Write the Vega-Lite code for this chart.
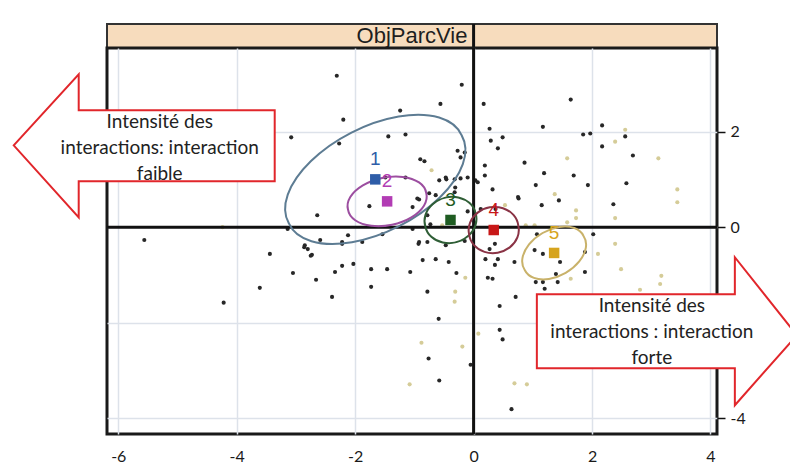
{
  "$schema": "https://vega.github.io/schema/vega-lite/v6.json",
  "background": "white",
  "padding": {"left": 8, "top": 21, "right": 0, "bottom": 0},
  "autosize": {"type": "pad"},
  "spacing": 0,
  "bounds": "flush",
  "datasets": {
    "points": [
      {"x": -2.31, "y": 3.17, "tone": "dark"}, {"x": -1.24, "y": 2.44, "tone": "dark"}, {"x": -2.2, "y": 2.25, "tone": "dark"},
      {"x": -3.08, "y": 1.88, "tone": "dark"}, {"x": -1.44, "y": 1.9, "tone": "dark"}, {"x": -1.15, "y": 1.94, "tone": "dark"},
      {"x": -2.27, "y": 1.75, "tone": "dark"}, {"x": -1.49, "y": 1.04, "tone": "dark"}, {"x": -1.15, "y": 1.04, "tone": "dark"},
      {"x": -1.76, "y": 0.44, "tone": "dark"}, {"x": -2.64, "y": 0.25, "tone": "dark"}, {"x": -3.14, "y": -0.04, "tone": "dark"},
      {"x": -2.12, "y": -0.17, "tone": "dark"}, {"x": -4.24, "y": 0.0, "tone": "light"}, {"x": -0.2, "y": 2.98, "tone": "dark"},
      {"x": -0.56, "y": 2.58, "tone": "dark"}, {"x": 0.17, "y": 2.58, "tone": "dark"}, {"x": 1.64, "y": 2.67, "tone": "dark"},
      {"x": 1.17, "y": 2.1, "tone": "dark"}, {"x": 0.27, "y": 2.06, "tone": "dark"}, {"x": 0.29, "y": 1.81, "tone": "dark"},
      {"x": 0.49, "y": 1.88, "tone": "dark"}, {"x": 0.41, "y": 1.65, "tone": "dark"}, {"x": -0.9, "y": 1.42, "tone": "dark"},
      {"x": -0.83, "y": 1.38, "tone": "dark"}, {"x": -0.71, "y": 1.19, "tone": "light"}, {"x": -0.47, "y": 1.04, "tone": "dark"},
      {"x": -0.27, "y": 1.6, "tone": "dark"}, {"x": -0.15, "y": 1.56, "tone": "dark"}, {"x": -0.22, "y": 1.46, "tone": "dark"},
      {"x": -0.58, "y": 0.98, "tone": "dark"}, {"x": -0.46, "y": 1.0, "tone": "dark"}, {"x": -0.32, "y": 1.0, "tone": "dark"},
      {"x": -0.22, "y": 1.02, "tone": "dark"}, {"x": -0.1, "y": 1.04, "tone": "dark"}, {"x": 0.03, "y": 0.98, "tone": "dark"},
      {"x": 0.19, "y": 1.08, "tone": "dark"}, {"x": 0.32, "y": 0.79, "tone": "dark"}, {"x": 0.86, "y": 1.35, "tone": "dark"},
      {"x": 1.05, "y": 0.88, "tone": "dark"}, {"x": 1.15, "y": 0.46, "tone": "dark"}, {"x": 1.44, "y": 0.56, "tone": "dark"},
      {"x": 0.75, "y": 0.63, "tone": "dark"}, {"x": 0.53, "y": 0.46, "tone": "light"}, {"x": -0.32, "y": 0.73, "tone": "dark"},
      {"x": -0.75, "y": 0.71, "tone": "dark"}, {"x": -0.92, "y": 0.58, "tone": "dark"}, {"x": -1.54, "y": -0.15, "tone": "dark"},
      {"x": -2.85, "y": -0.38, "tone": "dark"}, {"x": -2.73, "y": -0.58, "tone": "dark"}, {"x": -2.22, "y": -0.35, "tone": "dark"},
      {"x": -0.93, "y": -0.35, "tone": "dark"}, {"x": -0.47, "y": -0.38, "tone": "dark"}, {"x": 1.85, "y": 1.94, "tone": "dark"},
      {"x": 1.97, "y": 1.96, "tone": "dark"}, {"x": 2.17, "y": 2.13, "tone": "dark"}, {"x": 2.17, "y": 1.69, "tone": "dark"},
      {"x": 2.56, "y": 2.04, "tone": "light"}, {"x": 2.39, "y": 1.79, "tone": "light"}, {"x": 2.56, "y": 1.9, "tone": "dark"},
      {"x": 2.69, "y": 1.5, "tone": "dark"}, {"x": 3.12, "y": 1.44, "tone": "light"}, {"x": 1.58, "y": 1.44, "tone": "light"},
      {"x": 1.19, "y": 1.13, "tone": "dark"}, {"x": 1.69, "y": 1.08, "tone": "dark"}, {"x": 1.93, "y": 0.88, "tone": "dark"},
      {"x": 2.58, "y": 0.92, "tone": "dark"}, {"x": 3.44, "y": 0.79, "tone": "light"}, {"x": 3.44, "y": 0.52, "tone": "light"},
      {"x": 0.19, "y": 1.29, "tone": "dark"}, {"x": 0.76, "y": 0.6, "tone": "dark"}, {"x": 1.37, "y": 0.69, "tone": "light"},
      {"x": 1.73, "y": 0.35, "tone": "light"}, {"x": 1.73, "y": 0.19, "tone": "light"}, {"x": 2.36, "y": 0.48, "tone": "dark"},
      {"x": 2.39, "y": 0.19, "tone": "light"}, {"x": 1.03, "y": 0.04, "tone": "light"}, {"x": 1.58, "y": 0.1, "tone": "light"},
      {"x": 0.07, "y": 0.94, "tone": "dark"}, {"x": -0.95, "y": 0.6, "tone": "dark"}, {"x": -1.03, "y": 0.42, "tone": "dark"},
      {"x": -0.73, "y": 0.06, "tone": "dark"}, {"x": -0.1, "y": 0.33, "tone": "dark"}, {"x": 0.37, "y": 0.38, "tone": "dark"},
      {"x": 1.07, "y": -0.15, "tone": "dark"}, {"x": 2.02, "y": -0.15, "tone": "dark"}, {"x": -0.64, "y": 0.67, "tone": "dark"},
      {"x": -0.31, "y": 0.83, "tone": "dark"}, {"x": -0.78, "y": 0.25, "tone": "dark"}, {"x": -0.53, "y": 0.04, "tone": "light"},
      {"x": -1.03, "y": -0.04, "tone": "dark"}, {"x": -0.92, "y": -0.31, "tone": "dark"}, {"x": -0.78, "y": -0.31, "tone": "dark"},
      {"x": -0.15, "y": -0.29, "tone": "dark"}, {"x": 0.12, "y": 0.38, "tone": "dark"}, {"x": 0.88, "y": 0.04, "tone": "light"},
      {"x": 0.41, "y": -0.67, "tone": "dark"}, {"x": 1.03, "y": -0.48, "tone": "dark"}, {"x": 1.88, "y": -0.52, "tone": "dark"},
      {"x": 1.46, "y": -0.73, "tone": "dark"}, {"x": -1.07, "y": -0.94, "tone": "dark"}, {"x": -0.86, "y": -0.69, "tone": "dark"},
      {"x": -0.64, "y": -0.67, "tone": "dark"}, {"x": -0.42, "y": -0.73, "tone": "dark"}, {"x": 0.2, "y": -0.67, "tone": "dark"},
      {"x": 0.69, "y": -0.73, "tone": "dark"}, {"x": 0.27, "y": -0.46, "tone": "dark"}, {"x": 1.05, "y": -1.15, "tone": "dark"},
      {"x": 1.17, "y": -1.15, "tone": "dark"}, {"x": 1.42, "y": -1.15, "tone": "dark"}, {"x": 1.88, "y": -0.94, "tone": "dark"},
      {"x": -0.78, "y": -1.35, "tone": "dark"}, {"x": -0.31, "y": -1.35, "tone": "light"}, {"x": 0.32, "y": -1.08, "tone": "dark"},
      {"x": 0.71, "y": -1.46, "tone": "dark"}, {"x": -0.29, "y": -0.96, "tone": "dark"}, {"x": -0.14, "y": -1.06, "tone": "light"},
      {"x": -0.32, "y": -1.56, "tone": "light"}, {"x": -0.59, "y": -1.92, "tone": "dark"}, {"x": -0.88, "y": -2.42, "tone": "light"},
      {"x": -0.76, "y": -2.75, "tone": "dark"}, {"x": -0.19, "y": -2.5, "tone": "light"}, {"x": -1.08, "y": -3.29, "tone": "light"},
      {"x": -0.58, "y": -3.21, "tone": "dark"}, {"x": -0.05, "y": -2.88, "tone": "dark"}, {"x": 0.24, "y": -1.06, "tone": "dark"},
      {"x": 0.44, "y": -1.65, "tone": "dark"}, {"x": 0.44, "y": -2.15, "tone": "dark"}, {"x": 0.49, "y": -2.35, "tone": "dark"},
      {"x": 0.08, "y": -2.23, "tone": "light"}, {"x": 0.69, "y": -3.27, "tone": "light"}, {"x": 0.9, "y": -3.29, "tone": "light"},
      {"x": 0.64, "y": -3.81, "tone": "dark"}, {"x": 1.17, "y": -0.56, "tone": "dark"}, {"x": 1.39, "y": -0.98, "tone": "dark"},
      {"x": 1.2, "y": -1.29, "tone": "dark"}, {"x": 1.64, "y": -1.08, "tone": "light"}, {"x": 2.1, "y": -0.56, "tone": "light"},
      {"x": 2.39, "y": -0.35, "tone": "light"}, {"x": 2.49, "y": -0.88, "tone": "light"}, {"x": 2.81, "y": -1.31, "tone": "light"},
      {"x": 3.17, "y": -1.02, "tone": "light"}, {"x": 3.15, "y": -1.19, "tone": "light"}, {"x": 0.36, "y": -0.79, "tone": "dark"},
      {"x": 0.36, "y": -0.35, "tone": "dark"}, {"x": -5.56, "y": -0.27, "tone": "dark"}, {"x": -3.44, "y": -0.56, "tone": "dark"},
      {"x": -2.86, "y": -0.42, "tone": "dark"}, {"x": -2.8, "y": -0.46, "tone": "dark"}, {"x": -2.75, "y": -0.6, "tone": "dark"},
      {"x": -3.05, "y": -0.96, "tone": "dark"}, {"x": -2.66, "y": -1.1, "tone": "dark"}, {"x": -2.34, "y": -0.94, "tone": "dark"},
      {"x": -2.22, "y": -0.81, "tone": "dark"}, {"x": -2.03, "y": -0.77, "tone": "dark"}, {"x": -1.73, "y": -0.88, "tone": "dark"},
      {"x": -1.46, "y": -0.88, "tone": "dark"}, {"x": -1.73, "y": -1.25, "tone": "dark"}, {"x": -2.39, "y": -1.46, "tone": "dark"},
      {"x": -3.61, "y": -1.27, "tone": "dark"}, {"x": -4.22, "y": -1.58, "tone": "dark"}, {"x": -2.59, "y": -0.27, "tone": "dark"},
      {"x": -2.22, "y": -0.31, "tone": "dark"}, {"x": -1.88, "y": -0.31, "tone": "dark"}
    ],
    "centroids": [
      {"cat": "1", "x": -1.66, "y": 1.0},
      {"cat": "2", "x": -1.46, "y": 0.54},
      {"cat": "3", "x": -0.39, "y": 0.15},
      {"cat": "4", "x": 0.34, "y": -0.06},
      {"cat": "5", "x": 1.36, "y": -0.54}
    ],
    "notes": [
      {"side": "gauche", "x": -5.3, "y": 1.65, "text": "Intensité des\ninteractions: interaction\nfaible"},
      {"side": "droite", "x": 3.01, "y": -2.2, "text": "Intensité des\ninteractions : interaction\nforte"}
    ]
  },
  "vconcat": [
    {
      "width": 610,
      "height": 24,
      "view": {"fill": "#f7dcbd", "stroke": "#333333", "strokeWidth": 2},
      "data": {"values": [{"panel": "ObjParcVie", "origin": 0}]},
      "layer": [
        {
          "mark": {"type": "text", "font": "Liberation Sans", "fontSize": 22, "color": "#1e1e1e"},
          "encoding": {"text": {"field": "panel", "type": "nominal"}}
        },
        {
          "mark": {"type": "rule", "color": "#111111", "strokeWidth": 3},
          "encoding": {"x": {"field": "origin", "type": "quantitative", "scale": {"domain": [-6.19, 4.11], "nice": false, "zero": false}, "axis": null}}
        }
      ]
    },
    {
      "width": 610,
      "height": 386,
      "view": {"stroke": "#1a1a1a", "strokeWidth": 3},
      "resolve": {"scale": {"color": "independent", "shape": "independent"}},
      "layer": [
        {
          "data": {"name": "points"},
          "mark": {"type": "circle", "size": 17, "opacity": 1},
          "encoding": {
            "x": {"field": "x", "type": "quantitative", "scale": {"domain": [-6.19, 4.11], "nice": false, "zero": false},
                  "axis": {"orient": "bottom", "values": [-6, -4, -2, 0, 2, 4], "title": null, "domain": false, "ticks": false, "grid": true, "gridColor": "#dde2ea", "gridWidth": 1.5, "labelFont": "Lato", "labelFontSize": 16, "labelColor": "#1a1a1a", "labelPadding": 14, "labelExpr": "'' + datum.value"}},
            "y": {"field": "y", "type": "quantitative", "scale": {"domain": [-4.33, 3.75], "nice": false, "zero": false},
                  "axis": {"orient": "right", "values": [-4, -2, 0, 2], "title": null, "domain": false, "ticks": true, "tickSize": 8, "tickColor": "#111111", "tickWidth": 1.5, "grid": true, "gridColor": "#dde2ea", "gridWidth": 1.5, "labelFont": "Lato", "labelFontSize": 16, "labelColor": "#1a1a1a", "labelPadding": 5, "labelExpr": "datum.value == -2 ? '' : '' + datum.value"}},
            "color": {"field": "tone", "type": "nominal", "scale": {"domain": ["dark", "light"], "range": ["#272727", "#d5cc98"]}, "legend": null}
          }
        },
        {
          "data": {"values": [{"origin": 0}]},
          "mark": {"type": "rule", "color": "#111111", "strokeWidth": 3},
          "encoding": {"x": {"field": "origin", "type": "quantitative", "scale": {"domain": [-6.19, 4.11], "nice": false, "zero": false},
                  "axis": {"orient": "bottom", "values": [-6, -4, -2, 0, 2, 4], "title": null, "domain": false, "ticks": false, "grid": true, "gridColor": "#dde2ea", "gridWidth": 1.5, "labelFont": "Lato", "labelFontSize": 16, "labelColor": "#1a1a1a", "labelPadding": 14, "labelExpr": "'' + datum.value"}}}
        },
        {
          "data": {"values": [{"origin": 0}]},
          "mark": {"type": "rule", "color": "#111111", "strokeWidth": 3},
          "encoding": {"y": {"field": "origin", "type": "quantitative", "scale": {"domain": [-4.33, 3.75], "nice": false, "zero": false},
                  "axis": {"orient": "right", "values": [-4, -2, 0, 2], "title": null, "domain": false, "ticks": true, "tickSize": 8, "tickColor": "#111111", "tickWidth": 1.5, "grid": true, "gridColor": "#dde2ea", "gridWidth": 1.5, "labelFont": "Lato", "labelFontSize": 16, "labelColor": "#1a1a1a", "labelPadding": 5, "labelExpr": "datum.value == -2 ? '' : '' + datum.value"}}}
        },
        {
          "data": {"name": "centroids"},
          "mark": {"type": "point", "filled": false, "size": 4, "strokeWidth": 2, "opacity": 1},
          "encoding": {
            "x": {"field": "x", "type": "quantitative", "scale": {"domain": [-6.19, 4.11], "nice": false, "zero": false},
                  "axis": {"orient": "bottom", "values": [-6, -4, -2, 0, 2, 4], "title": null, "domain": false, "ticks": false, "grid": true, "gridColor": "#dde2ea", "gridWidth": 1.5, "labelFont": "Lato", "labelFontSize": 16, "labelColor": "#1a1a1a", "labelPadding": 14, "labelExpr": "'' + datum.value"}},
            "y": {"field": "y", "type": "quantitative", "scale": {"domain": [-4.33, 3.75], "nice": false, "zero": false},
                  "axis": {"orient": "right", "values": [-4, -2, 0, 2], "title": null, "domain": false, "ticks": true, "tickSize": 8, "tickColor": "#111111", "tickWidth": 1.5, "grid": true, "gridColor": "#dde2ea", "gridWidth": 1.5, "labelFont": "Lato", "labelFontSize": 16, "labelColor": "#1a1a1a", "labelPadding": 5, "labelExpr": "datum.value == -2 ? '' : '' + datum.value"}},
            "shape": {"field": "cat", "type": "nominal", "legend": null, "scale": {"domain": ["1", "2", "3", "4", "5"], "range": [
              "M -86.4 44 A 97 51 -27 1 1 86.4 -44 A 97 51 -27 1 1 -86.4 44 Z",
              "M -39.1 8.3 A 40 23 -12 1 1 39.1 -8.3 A 40 23 -12 1 1 -39.1 8.3 Z",
              "M -25.1 6.7 A 26 22 -15 1 1 25.1 -6.7 A 26 22 -15 1 1 -25.1 6.7 Z",
              "M -24.6 4.3 A 25 22 -10 1 1 24.6 -4.3 A 25 22 -10 1 1 -24.6 4.3 Z",
              "M -29.4 17 A 34 22 -30 1 1 29.4 -17 A 34 22 -30 1 1 -29.4 17 Z"]}},
            "color": {"field": "cat", "type": "nominal", "legend": null, "scale": {"domain": ["1", "2", "3", "4", "5"], "range": ["#5d7c93", "#9c4ea0", "#2f5e36", "#8a3345", "#c9b26a"]}}
          }
        },
        {
          "data": {"name": "centroids"},
          "mark": {"type": "point", "shape": "square", "filled": true, "size": 110, "opacity": 1},
          "encoding": {
            "x": {"field": "x", "type": "quantitative", "scale": {"domain": [-6.19, 4.11], "nice": false, "zero": false},
                  "axis": {"orient": "bottom", "values": [-6, -4, -2, 0, 2, 4], "title": null, "domain": false, "ticks": false, "grid": true, "gridColor": "#dde2ea", "gridWidth": 1.5, "labelFont": "Lato", "labelFontSize": 16, "labelColor": "#1a1a1a", "labelPadding": 14, "labelExpr": "'' + datum.value"}},
            "y": {"field": "y", "type": "quantitative", "scale": {"domain": [-4.33, 3.75], "nice": false, "zero": false},
                  "axis": {"orient": "right", "values": [-4, -2, 0, 2], "title": null, "domain": false, "ticks": true, "tickSize": 8, "tickColor": "#111111", "tickWidth": 1.5, "grid": true, "gridColor": "#dde2ea", "gridWidth": 1.5, "labelFont": "Lato", "labelFontSize": 16, "labelColor": "#1a1a1a", "labelPadding": 5, "labelExpr": "datum.value == -2 ? '' : '' + datum.value"}},
            "color": {"field": "cat", "type": "nominal", "legend": null, "scale": {"domain": ["1", "2", "3", "4", "5"], "range": ["#2e5da8", "#b23cb4", "#1f5c22", "#c81818", "#d6a41e"]}}
          }
        },
        {
          "data": {"name": "centroids"},
          "mark": {"type": "text", "dy": -20, "fontSize": 19, "font": "Liberation Sans"},
          "encoding": {
            "x": {"field": "x", "type": "quantitative", "scale": {"domain": [-6.19, 4.11], "nice": false, "zero": false},
                  "axis": {"orient": "bottom", "values": [-6, -4, -2, 0, 2, 4], "title": null, "domain": false, "ticks": false, "grid": true, "gridColor": "#dde2ea", "gridWidth": 1.5, "labelFont": "Lato", "labelFontSize": 16, "labelColor": "#1a1a1a", "labelPadding": 14, "labelExpr": "'' + datum.value"}},
            "y": {"field": "y", "type": "quantitative", "scale": {"domain": [-4.33, 3.75], "nice": false, "zero": false},
                  "axis": {"orient": "right", "values": [-4, -2, 0, 2], "title": null, "domain": false, "ticks": true, "tickSize": 8, "tickColor": "#111111", "tickWidth": 1.5, "grid": true, "gridColor": "#dde2ea", "gridWidth": 1.5, "labelFont": "Lato", "labelFontSize": 16, "labelColor": "#1a1a1a", "labelPadding": 5, "labelExpr": "datum.value == -2 ? '' : '' + datum.value"}},
            "text": {"field": "cat", "type": "nominal"},
            "color": {"field": "cat", "type": "nominal", "legend": null, "scale": {"domain": ["1", "2", "3", "4", "5"], "range": ["#2e5da8", "#b23cb4", "#1f5c22", "#c81818", "#d6a41e"]}}
          }
        },
        {
          "data": {"name": "notes"},
          "mark": {"type": "point", "filled": true, "size": 4, "fill": "white", "stroke": "#e1262b", "strokeWidth": 2, "opacity": 1, "fillOpacity": 1, "strokeOpacity": 1},
          "encoding": {
            "x": {"field": "x", "type": "quantitative", "scale": {"domain": [-6.19, 4.11], "nice": false, "zero": false},
                  "axis": {"orient": "bottom", "values": [-6, -4, -2, 0, 2, 4], "title": null, "domain": false, "ticks": false, "grid": true, "gridColor": "#dde2ea", "gridWidth": 1.5, "labelFont": "Lato", "labelFontSize": 16, "labelColor": "#1a1a1a", "labelPadding": 14, "labelExpr": "'' + datum.value"}},
            "y": {"field": "y", "type": "quantitative", "scale": {"domain": [-4.33, 3.75], "nice": false, "zero": false},
                  "axis": {"orient": "right", "values": [-4, -2, 0, 2], "title": null, "domain": false, "ticks": true, "tickSize": 8, "tickColor": "#111111", "tickWidth": 1.5, "grid": true, "gridColor": "#dde2ea", "gridWidth": 1.5, "labelFont": "Lato", "labelFontSize": 16, "labelColor": "#1a1a1a", "labelPadding": 5, "labelExpr": "datum.value == -2 ? '' : '' + datum.value"}},
            "shape": {"field": "side", "type": "nominal", "legend": null, "scale": {"domain": ["gauche", "droite"], "range": [
              "M -146 -3 L -81 -74 L -81 -38 L 115 -38 L 115 33 L -81 33 L -81 69 Z",
              "M -115 -38 L 83 -38 L 83 -75 L 145 3 L 83 73 L 83 36 L -115 36 Z"]}}
          }
        },
        {
          "data": {"name": "notes"},
          "mark": {"type": "text", "lineBreak": "\n", "align": "center", "baseline": "middle", "dy": -26, "fontSize": 19, "lineHeight": 26, "font": "Lato", "color": "#222222"},
          "encoding": {
            "x": {"field": "x", "type": "quantitative", "scale": {"domain": [-6.19, 4.11], "nice": false, "zero": false},
                  "axis": {"orient": "bottom", "values": [-6, -4, -2, 0, 2, 4], "title": null, "domain": false, "ticks": false, "grid": true, "gridColor": "#dde2ea", "gridWidth": 1.5, "labelFont": "Lato", "labelFontSize": 16, "labelColor": "#1a1a1a", "labelPadding": 14, "labelExpr": "'' + datum.value"}},
            "y": {"field": "y", "type": "quantitative", "scale": {"domain": [-4.33, 3.75], "nice": false, "zero": false},
                  "axis": {"orient": "right", "values": [-4, -2, 0, 2], "title": null, "domain": false, "ticks": true, "tickSize": 8, "tickColor": "#111111", "tickWidth": 1.5, "grid": true, "gridColor": "#dde2ea", "gridWidth": 1.5, "labelFont": "Lato", "labelFontSize": 16, "labelColor": "#1a1a1a", "labelPadding": 5, "labelExpr": "datum.value == -2 ? '' : '' + datum.value"}},
            "text": {"field": "text", "type": "nominal"}
          }
        }
      ]
    }
  ]
}
